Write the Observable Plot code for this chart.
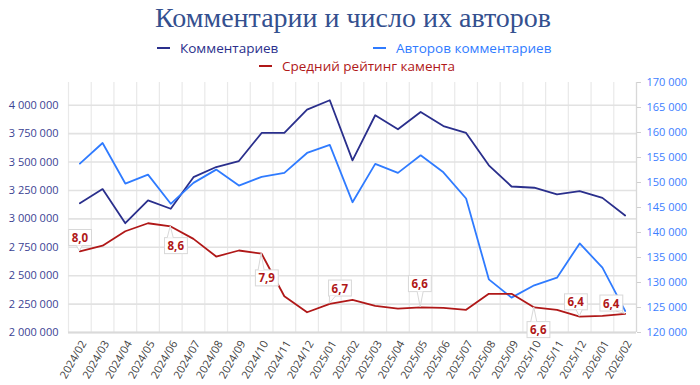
<!DOCTYPE html>
<html><head><meta charset="utf-8">
<script src="https://cdn.jsdelivr.net/npm/d3@7"></script>
<script src="https://cdn.jsdelivr.net/npm/@observablehq/plot@0.6"></script>
<style>
body{margin:0;background:#fff;font-family:"Open Sans","Noto Sans",sans-serif;}
#wrap{position:relative;width:700px;height:385px;overflow:hidden;}
#header{position:relative;height:75px;}
.title{position:absolute;left:0;width:706px;top:1px;text-align:center;font-family:"Liberation Serif","DejaVu Serif",serif;font-size:28px;line-height:34px;color:#34508f;}
.leg{position:absolute;font-size:13.5px;line-height:18px;white-space:nowrap;display:flex;align-items:center;}
.leg .sw{display:inline-block;width:13px;height:2px;margin-right:10px;}
#chart svg{display:block;}
</style></head><body>
<div id="wrap">
  <div id="header">
    <div class="title">Комментарии и число их авторов</div>
    <div class="leg" style="left:157px;top:39px;color:#2a2f8c"><span class="sw" style="background:#2a2f8c"></span>Комментариев</div>
    <div class="leg" style="left:373px;top:39px;color:#2f7bff"><span class="sw" style="background:#2f7bff"></span>Авторов комментариев</div>
    <div class="leg" style="left:259px;top:57px;color:#b01818"><span class="sw" style="background:#b01818"></span>Средний рейтинг камента</div>
  </div>
  <div id="chart"></div>
</div>
<script>
const months = ["2024/02","2024/03","2024/04","2024/05","2024/06","2024/07","2024/08","2024/09","2024/10","2024/11","2024/12","2025/01","2025/02","2025/03","2025/04","2025/05","2025/06","2025/07","2025/08","2025/09","2025/10","2025/11","2025/12","2026/01","2026/02"];
const comments = [3138000,3262000,2962000,3162000,3089000,3367000,3456000,3509000,3756000,3756000,3962000,4044000,3515000,3912000,3788000,3941000,3817000,3756000,3471000,3285000,3274000,3215000,3244000,3185000,3029000];
const authors = [153780,157900,149790,151580,145740,149930,152580,149390,151120,151920,155910,157510,146060,153720,151920,155440,152040,146800,130630,126980,129440,130970,137820,132970,124310];
const rating = [8.00,8.14,8.50,8.70,8.62,8.31,7.87,8.02,7.94,6.88,6.48,6.69,6.79,6.64,6.57,6.60,6.59,6.54,6.94,6.94,6.60,6.54,6.37,6.39,6.44];
const leftTicks = d3.range(2000000, 4000001, 250000);
const rightTicks = d3.range(120000, 170001, 5000);
const labelIdx = [0,4,8,11,15,20,22,24];

const leftDomain = [2000000, 4200000];
const rightDomain = [120000, 170000];
const ratingDomain = [5.975, 12.21];
const rToL = d3.scaleLinear().domain(rightDomain).range(leftDomain);
const ratToL = d3.scaleLinear().domain(ratingDomain).range(leftDomain);
const fmt = v => d3.format(",d")(v).replace(/,/g, " ");
const fmtR = v => d3.format(".1f")(v).replace(".", ",");

const rows = months.map((m, i) => ({i, month: m, comments: comments[i], authors: authors[i], rating: rating[i]}));

// label offsets (layout only)
const placement = {0:[0,-13],4:[5,20],8:[5,25],11:[10,-15],15:[-1,-23],20:[4,23],22:[-4,-14],24:[-14,-10]};

const C_NAVY = "#2a2f8c", C_BLUE = "#2f7bff", C_RED = "#b01818";

const labelMarks = labelIdx.map((idx, k) => Plot.text([rows[idx]], {
  x: "i", y: d => ratToL(d.rating), text: d => fmtR(d.rating),
  dx: placement[idx][0], dy: placement[idx][1],
  fill: C_RED, fontWeight: "bold", fontSize: 11.5, className: "rl rl-" + k
}));

const plot = Plot.plot({
  width: 700, height: 310,
  marginLeft: 68, marginRight: 64, marginTop: 7, marginBottom: 53,
  style: {fontFamily: "'Open Sans','Noto Sans',sans-serif", fontSize: "11px", background: "#fff"},
  x: {type: "linear", domain: [-0.5, 24.5]},
  y: {domain: leftDomain},
  marks: [
    Plot.ruleX(d3.range(-0.5, 25, 1), {stroke: "#e9e9e9", strokeWidth: 1.2}),
    Plot.ruleY(leftTicks, {stroke: "#e2e2e2", strokeWidth: 1.6}),
    Plot.ruleY([2000000], {stroke: "#dadada", strokeWidth: 2}),
    Plot.ruleX([24.5], {stroke: "#d8d8d8", strokeWidth: 1.2}),
    Plot.axisY(leftTicks, {anchor: "left", tickSize: 0, tickPadding: 10, tickFormat: fmt, fill: "#3b4394", label: null}),
    Plot.axisY(rightTicks.map(v => rToL(v)), {anchor: "right", tickSize: 4, tickPadding: 6, tickFormat: d => fmt(Math.round(rToL.invert(d))), fill: "#3d7eff", stroke: "#cfcfcf", label: null}),
    Plot.axisX(d3.range(0, 25), {anchor: "bottom", tickSize: 0, tickPadding: 9, dx: 4, tickRotate: -60, tickFormat: i => months[i], fill: "#404040", label: null}),
    Plot.lineY(rows, {x: "i", y: "comments", stroke: C_NAVY, strokeWidth: 1.8}),
    Plot.lineY(rows, {x: "i", y: d => rToL(d.authors), stroke: C_BLUE, strokeWidth: 1.8}),
    Plot.lineY(rows, {x: "i", y: d => ratToL(d.rating), stroke: C_RED, strokeWidth: 1.8}),
    ...labelMarks
  ]
});
document.getElementById("chart").appendChild(plot);

// callout boxes for rating labels
(function(){
  const ns = "http://www.w3.org/2000/svg";
  const sr = plot.getBoundingClientRect();
  const xs = plot.scale("x"), ys = plot.scale("y");
  const boxLayer = document.createElementNS(ns, "g");
  plot.appendChild(boxLayer);
  labelIdx.forEach((idx, k) => {
    const g = plot.querySelector(".rl-" + k);
    if (!g) return;
    const t = g.querySelector("text");
    const r = t.getBoundingClientRect();
    const bx = r.left - sr.left - 3, by = r.top - sr.top - 0.5, bw = r.width + 6, bh = r.height + 1;
    const px = xs.apply(idx), py = ys.apply(ratToL(rating[idx]));
    const rect = document.createElementNS(ns, "rect");
    rect.setAttribute("x", bx); rect.setAttribute("y", by);
    rect.setAttribute("width", bw); rect.setAttribute("height", bh);
    rect.setAttribute("fill", "#fff"); rect.setAttribute("stroke", "#d8d8d8");
    boxLayer.appendChild(rect);
    const below = py > by + bh;
    const ey = below ? by + bh : by;
    const cx = Math.max(bx + 4, Math.min(bx + bw - 4, px));
    const tail = document.createElementNS(ns, "path");
    tail.setAttribute("d", `M${cx - 3},${ey} L${px},${py} L${cx + 3},${ey}`);
    tail.setAttribute("fill", "#fff"); tail.setAttribute("stroke", "#d8d8d8");
    boxLayer.appendChild(tail);
  });
  plot.querySelectorAll(".rl").forEach(g => plot.appendChild(g));
})();
</script>
</body></html>
